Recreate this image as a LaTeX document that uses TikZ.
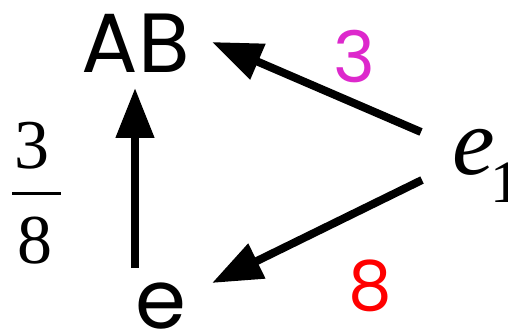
\documentclass[tikz,border=0pt]{standalone}
\usepackage{fontspec}
\setmainfont{Liberation Serif}
\newfontfamily\comicfont{Poppins}
\usetikzlibrary{arrows.meta}
\definecolor{lblmag}{RGB}{221,40,204}
\definecolor{lblred}{RGB}{255,0,0}
\tikzset{
  conn/.style={line width=8pt, -{Triangle[length=50pt,width=37pt]}},
  comictxt/.style={inner sep=0pt, anchor=base, font=\comicfont\fontsize{84}{84}\selectfont},
  serif/.style={inner sep=0pt, anchor=base},
}
\begin{document}
\begin{tikzpicture}[x=1pt,y=-1pt]
\useasboundingbox (0,0) rectangle (508,331);
% nodes
\node[comictxt] (AB) at (136,73) {AB};
\node[comictxt, font=\comicfont\fontsize{82}{82}\selectfont] (e) at (161,328) {e};
\node[serif, anchor=base west] (e1) at (452,175) {\fontsize{96}{96}\selectfont\itshape e\kern-4pt\raisebox{-28pt}{\fontsize{60}{60}\selectfont\upshape 1}};
% fraction
\node[serif, font=\fontsize{70}{70}\selectfont] (num) at (32,168) {3};
\node[serif, font=\fontsize{70}{70}\selectfont] (den) at (35,263) {8};
\draw[line width=3pt] (12,193) -- (61,193);
% edge labels
\node[comictxt, font=\comicfont\fontsize{71}{71}\selectfont, text=lblmag] (l3) at (354,83) {3};
\node[comictxt, font=\comicfont\fontsize{69}{69}\selectfont, text=lblred] (l8) at (370,310) {8};
% connector endpoints
\coordinate (eTop) at (135,268);
\coordinate (abBot) at (135,88);
\coordinate (e1Up) at (421,132);
\coordinate (abRight) at (212,42);
\coordinate (e1Down) at (422,180);
\coordinate (eRight) at (212,283);
\draw[conn] (eTop) -- (abBot);
\draw[conn] (e1Up) -- (abRight);
\draw[conn] (e1Down) -- (eRight);
\end{tikzpicture}
\end{document}
